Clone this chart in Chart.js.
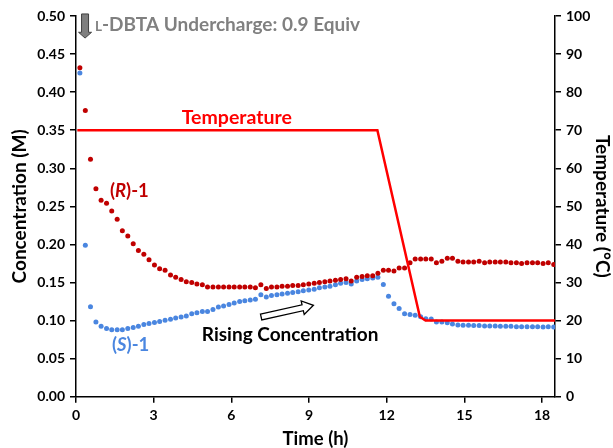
<!DOCTYPE html>
<html><head><meta charset="utf-8">
<script src="https://cdn.jsdelivr.net/npm/chart.js@4.4.1/dist/chart.umd.min.js"></script>
<style>html,body{margin:0;padding:0;background:#fff;}#wrap{width:613px;height:448px;position:relative;}</style>
</head><body><div id="wrap"><canvas id="c" width="613" height="448"></canvas></div>
<script>
const timeH = [0.15,0.36,0.56,0.77,0.97,1.18,1.38,1.59,1.79,2.00,
2.21,2.41,2.62,2.82,3.03,3.23,3.44,3.65,3.85,4.06,
4.26,4.47,4.67,4.88,5.08,5.29,5.50,5.70,5.91,6.11,
6.32,6.52,6.73,6.93,7.14,7.35,7.55,7.76,7.96,8.17,
8.37,8.58,8.78,8.99,9.20,9.40,9.61,9.81,10.02,10.22,
10.43,10.63,10.84,11.05,11.25,11.46,11.66,11.87,12.07,12.28,
12.48,12.69,12.90,13.10,13.31,13.51,13.72,13.92,14.13,14.34,
14.54,14.75,14.95,15.16,15.36,15.57,15.78,15.98,16.19,16.39,
16.60,16.80,17.01,17.21,17.42,17.63,17.83,18.04,18.24,18.45];
const rConc = [0.432,0.376,0.312,0.273,0.258,0.254,0.244,0.233,0.218,0.211,
0.201,0.192,0.187,0.180,0.173,0.168,0.166,0.160,0.157,0.154,
0.151,0.150,0.148,0.147,0.144,0.144,0.144,0.144,0.144,0.144,
0.144,0.144,0.144,0.143,0.147,0.142,0.144,0.144,0.145,0.145,
0.146,0.146,0.147,0.148,0.149,0.150,0.151,0.152,0.153,0.154,
0.155,0.152,0.157,0.158,0.159,0.159,0.162,0.166,0.166,0.165,
0.169,0.169,0.176,0.181,0.181,0.181,0.181,0.176,0.178,0.182,
0.182,0.178,0.177,0.177,0.177,0.178,0.176,0.177,0.177,0.177,
0.177,0.176,0.176,0.175,0.176,0.176,0.176,0.175,0.176,0.1735];
const sConc = [0.425,0.199,0.118,0.098,0.0925,0.0895,0.088,0.088,0.088,0.0895,
0.0908,0.0925,0.0947,0.096,0.0974,0.0987,0.1004,0.1017,0.1034,0.1047,
0.106,0.109,0.1104,0.112,0.112,0.1144,0.1178,0.119,0.121,0.123,
0.125,0.126,0.127,0.128,0.134,0.131,0.133,0.134,0.135,0.136,
0.137,0.138,0.139,0.140,0.141,0.143,0.144,0.145,0.147,0.149,
0.150,0.148,0.152,0.154,0.155,0.156,0.157,0.1475,0.132,0.122,
0.1157,0.109,0.108,0.107,0.105,0.1025,0.102,0.098,0.098,0.097,
0.0955,0.0943,0.094,0.094,0.0935,0.0935,0.093,0.093,0.093,0.0925,
0.0925,0.0925,0.092,0.092,0.092,0.092,0.092,0.0915,0.092,0.0915];
const tempTime = [0.05, 11.64, 13.28, 13.5, 18.5];
const tempC = [70, 70, 21, 20, 20];
const xTicks = [0,3,6,9,12,15,18];
const xTickLabels = ['0','3','6','9','12','15','18'];
const yTicks = [0,0.05,0.1,0.15,0.2,0.25,0.3,0.35,0.4,0.45,0.5];
const yTickLabels = ['0.00','0.05','0.10','0.15','0.20','0.25','0.30','0.35','0.40','0.45','0.50'];
const y2Ticks = [0,10,20,30,40,50,60,70,80,90,100];
const y2TickLabels = ['0','10','20','30','40','50','60','70','80','90','100'];

const FONT = 'Lato, "Open Sans", sans-serif';
Chart.defaults.font.family = FONT;

const annot = {
  id: 'annot',
  afterDraw(chart) {
    const ctx = chart.ctx, x = chart.scales.x, y = chart.scales.y;
    const px = v => x.getPixelForValue(v), py = v => y.getPixelForValue(v);
    ctx.save();
    ctx.textBaseline = 'middle';
    function txt(s, X, Y, size, color, style, align) {
      ctx.font = (style || '') + ' bold ' + size + 'px ' + FONT;
      ctx.fillStyle = color; ctx.textAlign = align || 'left';
      ctx.fillText(s, X, Y);
      return ctx.measureText(s).width;
    }
    // Temperature label
    txt('Temperature', px(6.21), py(0.367), 19.5, '#ff0000', '', 'center');
    // (R)-1
    let X = px(1.31), Y = py(0.270);
    X += txt('(', X, Y, 18.5, '#c00000');
    X += txt('R', X, Y, 18.5, '#c00000', 'italic');
    txt(')-1', X, Y, 18.5, '#c00000');
    // (S)-1
    X = px(1.39); Y = py(0.0677);
    X += txt('(', X, Y, 18.5, '#4a86e0');
    X += txt('S', X, Y, 18.5, '#4a86e0', 'italic');
    txt(')-1', X, Y, 18.5, '#4a86e0');
    // Rising Concentration
    txt('Rising Concentration', px(4.86), py(0.0808), 19, '#000');
    // hollow arrow
    {
      const x0 = px(7.15), y0 = py(0.1047), x1 = px(9.17), y1 = py(0.120);
      const ang = Math.atan2(y1 - y0, x1 - x0);
      const L = Math.hypot(x1 - x0, y1 - y0);
      ctx.translate(x0, y0); ctx.rotate(ang);
      const hw = 3, hh = 7, hl = 11;
      ctx.beginPath();
      ctx.moveTo(0, -hw); ctx.lineTo(L - hl, -hw); ctx.lineTo(L - hl, -hh);
      ctx.lineTo(L, 0); ctx.lineTo(L - hl, hh); ctx.lineTo(L - hl, hw); ctx.lineTo(0, hw);
      ctx.closePath();
      ctx.fillStyle = '#fff'; ctx.fill();
      ctx.lineWidth = 1.3; ctx.strokeStyle = '#000'; ctx.stroke();
      ctx.setTransform(1, 0, 0, 1, 0, 0);
    }
    // gray down arrow
    {
      const cx = px(0.35), top = py(0.5027), tip = py(0.471), hs = py(0.4786);
      ctx.beginPath();
      ctx.moveTo(cx - 3.5, top); ctx.lineTo(cx + 3.5, top); ctx.lineTo(cx + 3.5, hs);
      ctx.lineTo(cx + 6.5, hs); ctx.lineTo(cx, tip); ctx.lineTo(cx - 6.5, hs);
      ctx.lineTo(cx - 3.5, hs); ctx.closePath();
      ctx.fillStyle = '#7f7f7f'; ctx.fill();
      ctx.lineWidth = 1; ctx.strokeStyle = '#404040'; ctx.stroke();
    }
    // L-DBTA label
    X = px(0.73); Y = py(0.489);
    ctx.textBaseline = 'alphabetic';
    const base = Y + 6.5;
    X += txt('L', X, base, 13.5, '#808080');
    txt('-DBTA Undercharge: 0.9 Equiv', X, base, 19, '#808080');
    ctx.restore();
  }
};

const axisCommon = {
  grid: { drawOnChartArea: false, drawTicks: true, tickLength: 6, color: '#000', lineWidth: 1.5 },
  border: { display: true, color: '#000', width: 1.5 },
};

new Chart(document.getElementById('c'), {
  type: 'scatter',
  data: {
    datasets: [
      { label: 'Temperature', yAxisID: 'y2', showLine: true, data: tempTime.map((t, i) => ({ x: t, y: tempC[i] })),
        borderColor: '#ff0000', borderWidth: 2.5, pointRadius: 0, tension: 0 },
      { label: '(R)-1', yAxisID: 'y', data: timeH.map((t, i) => ({ x: t, y: rConc[i] })),
        backgroundColor: '#c00000', borderWidth: 0, pointRadius: 2.5 },
      { label: '(S)-1', yAxisID: 'y', data: timeH.map((t, i) => ({ x: t, y: sConc[i] })),
        backgroundColor: '#4a86e0', borderWidth: 0, pointRadius: 2.5 }
    ]
  },
  options: {
    responsive: false, animation: false,
    layout: { padding: { top: 16, left: 0, right: 0, bottom: 0 } },
    plugins: { legend: { display: false }, tooltip: { enabled: false } },
    scales: {
      x: { type: 'linear', min: 0, max: 18.5, ...axisCommon,
        afterBuildTicks: s => { s.ticks = xTicks.map(v => ({ value: v })); },
        afterFit: s => { s.height = 51.3; },
        ticks: { color: '#000', font: { size: 14, weight: 'bold' }, padding: 4, maxRotation: 0,
          callback: (v, i) => xTickLabels[i] },
        title: { display: true, text: 'Time (h)', color: '#000', font: { size: 18.5, weight: 'bold' }, padding: { top: 0, bottom: -2 } } },
      y: { position: 'left', min: 0, max: 0.5, ...axisCommon,
        afterBuildTicks: s => { s.ticks = yTicks.map(v => ({ value: v })); },
        afterFit: s => { s.width = 76; },
        ticks: { color: '#000', font: { size: 14, weight: 'bold' }, padding: 5,
          callback: (v, i) => yTickLabels[i] },
        title: { display: true, text: 'Concentration (M)', color: '#000', font: { size: 19, weight: 'bold' }, padding: { top: 8, bottom: 0 } } },
      y2: { position: 'right', min: 0, max: 100, ...axisCommon,
        afterBuildTicks: s => { s.ticks = y2Ticks.map(v => ({ value: v })); },
        afterFit: s => { s.width = 58; },
        ticks: { color: '#000', font: { size: 14, weight: 'bold' }, padding: 5,
          callback: (v, i) => y2TickLabels[i] },
        title: { display: true, text: 'Temperature (°C)', color: '#000', font: { size: 19, weight: 'bold' }, padding: { top: -1, bottom: 0 } } }
    }
  },
  plugins: [annot]
});
</script></body></html>
